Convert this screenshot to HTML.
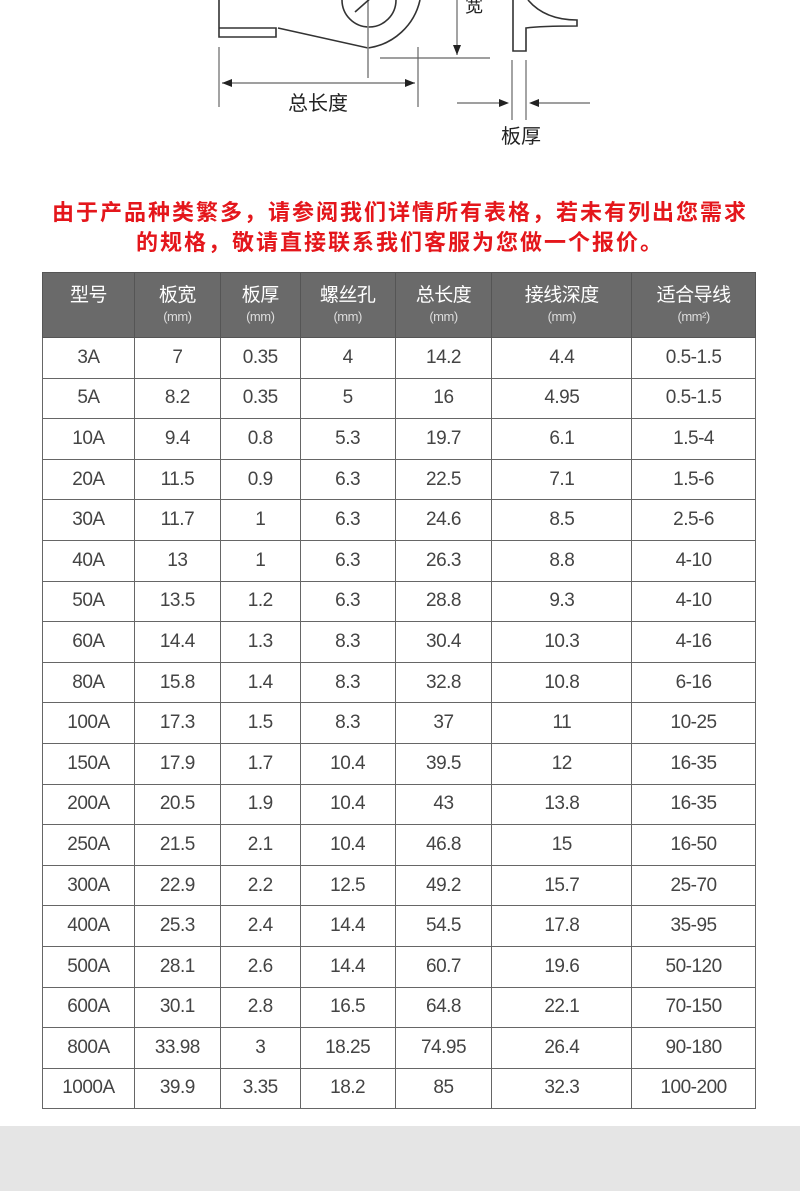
<!DOCTYPE html>
<html><head><meta charset="utf-8"><style>
body{margin:0;width:800px;height:1191px;background:#fff;position:relative;overflow:hidden;font-family:"Liberation Sans","Noto Sans CJK SC",sans-serif}
.red{position:absolute;left:0;width:800px;text-align:center;color:#e4161b;font-weight:bold;font-size:22px;letter-spacing:2px;line-height:30px}
table{position:absolute;left:42px;top:272px;border-collapse:collapse;width:714px}
td,th{border:1.5px solid #666;text-align:center;padding:0;color:#444;font-size:19px;font-weight:normal;letter-spacing:-0.5px}
th{background:#6a6a6a;color:#fff;height:64px;font-size:19px;line-height:24px;border-color:#555}
th small{display:block;font-size:13px;color:#ddd;line-height:18px}
td{height:39.6px}
.gray{position:absolute;left:0;top:1126px;width:800px;height:65px;background:#e5e5e5}
</style></head><body>
<svg width="800" height="160" style="position:absolute;left:0;top:0" font-family="Liberation Sans,Noto Sans CJK SC,sans-serif">
<g stroke="#333" stroke-width="1.6" fill="none">
<path d="M219 0 V28 H276 V37 H219 V28"/>
<path d="M278 28 L368 48 A62 62 0 0 0 420 0"/>
<circle cx="369" cy="0" r="27"/>
<line x1="368" y1="0" x2="368" y2="78" stroke="#888"/>
<line x1="355" y1="12" x2="372" y2="-3"/>
<path d="M513 0 V51 H526 V28 Q541 26 577 26 V20 Q545 20 528 0"/>
</g>
<g stroke="#666" stroke-width="1.2">
<line x1="219" y1="47" x2="219" y2="107"/><line x1="418" y1="47" x2="418" y2="107"/>
<line x1="222" y1="83" x2="415" y2="83"/>
<line x1="380" y1="58" x2="490" y2="58"/>
<line x1="457" y1="0" x2="457" y2="55"/>
<line x1="512" y1="60" x2="512" y2="120"/><line x1="526" y1="60" x2="526" y2="120"/>
<line x1="457" y1="103" x2="505" y2="103"/><line x1="533" y1="103" x2="590" y2="103"/>
</g>
<g fill="#222"><path d="M222 83 l10 -4 v8z"/><path d="M415 83 l-10 -4 v8z"/><path d="M457 55 l-4 -10 h8z"/><path d="M509 103 l-10 -4 v8z"/><path d="M529 103 l10 -4 v8z"/></g>
<text x="318" y="110" font-size="20" text-anchor="middle" fill="#222">总长度</text>
<text x="521" y="143" font-size="20" text-anchor="middle" fill="#222">板厚</text>
<text x="474" y="12" font-size="18" text-anchor="middle" fill="#222">宽</text>
</svg>
<div class="red" style="top:198px">由于产品种类繁多，请参阅我们详情所有表格，若未有列出您需求</div>
<div class="red" style="top:228px">的规格，敬请直接联系我们客服为您做一个报价。</div>
<table>
<colgroup><col style="width:92px"><col style="width:86px"><col style="width:80px"><col style="width:95px"><col style="width:97px"><col style="width:140px"><col style="width:124px"></colgroup>
<tr><th>型号<small>&nbsp;</small></th><th>板宽<small>(mm)</small></th><th>板厚<small>(mm)</small></th><th>螺丝孔<small>(mm)</small></th><th>总长度<small>(mm)</small></th><th>接线深度<small>(mm)</small></th><th>适合导线<small>(mm²)</small></th></tr>
<tr><td>3A</td><td>7</td><td>0.35</td><td>4</td><td>14.2</td><td>4.4</td><td>0.5-1.5</td></tr>
<tr><td>5A</td><td>8.2</td><td>0.35</td><td>5</td><td>16</td><td>4.95</td><td>0.5-1.5</td></tr>
<tr><td>10A</td><td>9.4</td><td>0.8</td><td>5.3</td><td>19.7</td><td>6.1</td><td>1.5-4</td></tr>
<tr><td>20A</td><td>11.5</td><td>0.9</td><td>6.3</td><td>22.5</td><td>7.1</td><td>1.5-6</td></tr>
<tr><td>30A</td><td>11.7</td><td>1</td><td>6.3</td><td>24.6</td><td>8.5</td><td>2.5-6</td></tr>
<tr><td>40A</td><td>13</td><td>1</td><td>6.3</td><td>26.3</td><td>8.8</td><td>4-10</td></tr>
<tr><td>50A</td><td>13.5</td><td>1.2</td><td>6.3</td><td>28.8</td><td>9.3</td><td>4-10</td></tr>
<tr><td>60A</td><td>14.4</td><td>1.3</td><td>8.3</td><td>30.4</td><td>10.3</td><td>4-16</td></tr>
<tr><td>80A</td><td>15.8</td><td>1.4</td><td>8.3</td><td>32.8</td><td>10.8</td><td>6-16</td></tr>
<tr><td>100A</td><td>17.3</td><td>1.5</td><td>8.3</td><td>37</td><td>11</td><td>10-25</td></tr>
<tr><td>150A</td><td>17.9</td><td>1.7</td><td>10.4</td><td>39.5</td><td>12</td><td>16-35</td></tr>
<tr><td>200A</td><td>20.5</td><td>1.9</td><td>10.4</td><td>43</td><td>13.8</td><td>16-35</td></tr>
<tr><td>250A</td><td>21.5</td><td>2.1</td><td>10.4</td><td>46.8</td><td>15</td><td>16-50</td></tr>
<tr><td>300A</td><td>22.9</td><td>2.2</td><td>12.5</td><td>49.2</td><td>15.7</td><td>25-70</td></tr>
<tr><td>400A</td><td>25.3</td><td>2.4</td><td>14.4</td><td>54.5</td><td>17.8</td><td>35-95</td></tr>
<tr><td>500A</td><td>28.1</td><td>2.6</td><td>14.4</td><td>60.7</td><td>19.6</td><td>50-120</td></tr>
<tr><td>600A</td><td>30.1</td><td>2.8</td><td>16.5</td><td>64.8</td><td>22.1</td><td>70-150</td></tr>
<tr><td>800A</td><td>33.98</td><td>3</td><td>18.25</td><td>74.95</td><td>26.4</td><td>90-180</td></tr>
<tr><td>1000A</td><td>39.9</td><td>3.35</td><td>18.2</td><td>85</td><td>32.3</td><td>100-200</td></tr>
</table>
<div class="gray"></div>
</body></html>
